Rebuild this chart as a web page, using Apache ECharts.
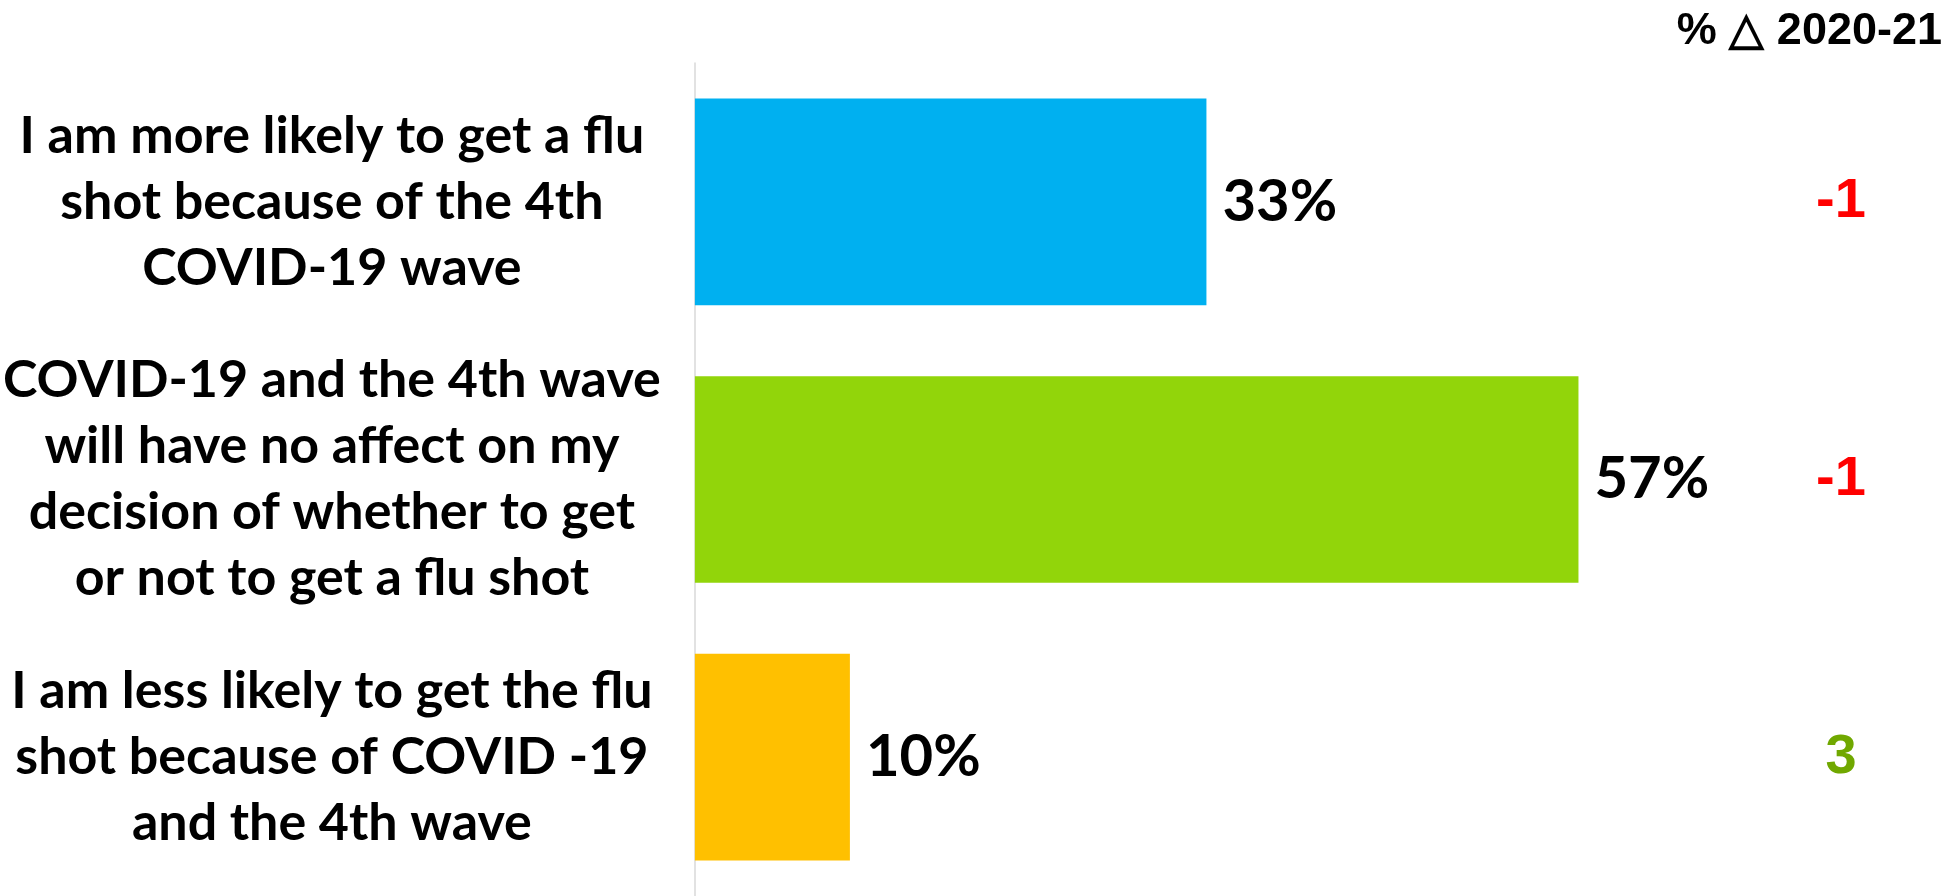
<!DOCTYPE html>
<html>
<head>
<meta charset="utf-8">
<script src="https://cdn.jsdelivr.net/npm/echarts@6/dist/echarts.min.js"></script>
<style>
html,body{margin:0;padding:0;background:#fff;}
#chart{width:1951px;height:896px;}
</style>
</head>
<body>
<div id="chart"></div>
<script>
const categories = [
  "I am more likely to get a flu\nshot because of the 4th\nCOVID-19 wave",
  "COVID-19 and the 4th wave\nwill have no affect on my\ndecision of whether to get\nor not to get a flu shot",
  "I am less likely to get the flu\nshot because of COVID -19\nand the 4th wave"
];
const values = [33, 57, 10];
const deltas = [-1, -1, 3];
const barColors = ["#00B0F0", "#92D50A", "#FFC000"];
const headerText = "% \u25B3 2020-21";

const chart = echarts.init(document.getElementById('chart'));
chart.setOption({
  animation: false,
  backgroundColor: '#fff',
  title: {
    text: headerText,
    right: 4,
    top: 4,
    textStyle: {fontFamily: 'Liberation Sans, Arial, sans-serif', fontWeight: 'bold', fontSize: 45, color: '#000'}
  },
  grid: {left: 690, right: 16, top: 63, bottom: 0, containLabel: false},
  xAxis: {type: 'value', min: 0, max: 80, show: false, splitLine: {show: false}},
  yAxis: [
    {
      type: 'category', data: categories, inverse: true,
      axisLine: {show: true, lineStyle: {color: '#d9d9d9', width: 1.5}},
      axisTick: {show: false},
      axisLabel: {
        align: 'center', margin: 363,
        fontFamily: 'Lato, sans-serif', fontWeight: 'bold', fontSize: 52, lineHeight: 66, color: '#000'
      }
    },
    {
      type: 'category', data: deltas.map(String), inverse: true, position: 'right',
      axisLine: {show: false}, axisTick: {show: false},
      axisLabel: {
        align: 'center', margin: -94,
        fontFamily: 'Liberation Sans, Arial, sans-serif', fontWeight: 'bold', fontSize: 56,
        color: function (v) { return Number(v) < 0 ? '#FF0000' : '#70A800'; }
      }
    }
  ],
  series: [{
    type: 'bar',
    data: values.map((v, i) => ({value: v, itemStyle: {color: barColors[i]}})),
    barCategoryGap: '25.6%',
    label: {
      show: true, position: 'right', distance: 16,
      formatter: '{c}%',
      fontFamily: 'Lato, sans-serif', fontWeight: 'bold', fontSize: 58, color: '#000'
    }
  }]
});
</script>
</body>
</html>
